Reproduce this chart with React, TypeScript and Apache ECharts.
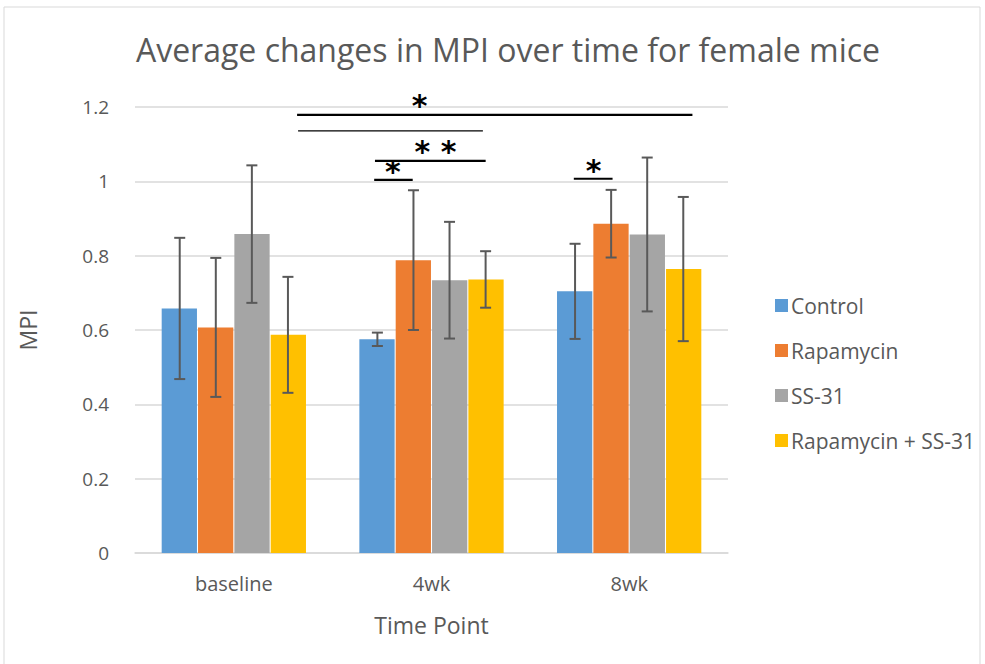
import React, { useEffect, useRef } from "react";
import * as echarts from "echarts";

const categories = ["baseline", "4wk", "8wk"];
const seriesNames = ["Control", "Rapamycin", "SS-31", "Rapamycin + SS-31"];
const colors = ["#5B9BD5", "#ED7D31", "#A5A5A5", "#FFC000"];
const controlVals = [0.658, 0.575, 0.704];
const rapaVals = [0.607, 0.788, 0.886];
const ssVals = [0.858, 0.734, 0.857];
const comboVals = [0.587, 0.736, 0.764];
const controlErr = [0.19, 0.018, 0.128];
const rapaErr = [0.187, 0.188, 0.091];
const ssErr = [0.185, 0.157, 0.207];
const comboErr = [0.156, 0.076, 0.194];

// significance bars: [x start, x end, y, line width] on a 0..3 category-space axis
const sigLines = [
  [0.82, 2.82, 1.179, 2.2],
  [0.825, 1.76, 1.136, 1.2],
  [1.214, 1.774, 1.055, 2.2],
  [1.21, 1.405, 1.004, 2.2],
  [2.22, 2.416, 1.007, 2.2],
];
const starX = [1.44, 1.52, 1.305, 2.32];
const starY = [1.205, 1.081, 1.026, 1.029];
const starText = ["*", "* *", "*", "*"];

const allVals = [controlVals, rapaVals, ssVals, comboVals];
const allErr = [controlErr, rapaErr, ssErr, comboErr];

const GAP = 0.27;
const FONT = "Open Sans";

export default function App() {
  const ref = useRef<HTMLDivElement>(null);
  useEffect(() => {
    if (!ref.current) return;
    const chart = echarts.init(ref.current, undefined, { renderer: "svg" });
    const barSeries = seriesNames.map((name, i) => ({
      name,
      type: "bar",
      data: allVals[i],
      barGap: "3%",
      barCategoryGap: GAP * 100 + "%",
      itemStyle: { color: colors[i] },
      z: 2,
    }));
    const errSeries = seriesNames.map((name, si) => ({
      type: "custom",
      name: name + "-err",
      z: 5,
      data: allVals[si].map((v, k) => [k, v - allErr[si][k], v + allErr[si][k]]),
      renderItem: (params: any, api: any) => {
        const x = api.value(0);
        const lo = api.coord([x, api.value(1)]);
        const hi = api.coord([x, api.value(2)]);
        const catW = api.size([1, 0])[0];
        const groupW = catW * (1 - GAP);
        const bw = groupW / 4;
        const cx = lo[0] - groupW / 2 + (si + 0.5) * bw;
        const cap = 5.5;
        const style = { stroke: "#595959", lineWidth: 2 };
        return {
          type: "group",
          children: [
            { type: "line", shape: { x1: cx, y1: lo[1], x2: cx, y2: hi[1] }, style },
            { type: "line", shape: { x1: cx - cap, y1: lo[1], x2: cx + cap, y2: lo[1] }, style },
            { type: "line", shape: { x1: cx - cap, y1: hi[1], x2: cx + cap, y2: hi[1] }, style },
          ],
        };
      },
    }));
    const option: any = {
      animation: false,
      backgroundColor: "#fff",
      title: {
        text: "Average changes in MPI over time for female mice",
        left: 503,
        textAlign: "center",
        top: 28,
        textStyle: { fontFamily: FONT, fontSize: 32, fontWeight: "normal", color: "#595959" },
      },
      legend: {
        orient: "vertical",
        left: 770,
        top: 290,
        itemWidth: 13,
        itemHeight: 13,
        itemGap: 24,
        icon: "rect",
        data: seriesNames,
        textStyle: { fontFamily: FONT, fontSize: 21, color: "#595959", padding: [0, 0, 0, -2] },
      },
      grid: { left: 135, right: 257, top: 107, bottom: 111 },
      xAxis: [
        {
          type: "category",
          data: categories,
          name: "Time Point",
          nameLocation: "middle",
          nameGap: 60,
          nameTextStyle: { fontFamily: FONT, fontSize: 23, color: "#595959" },
          axisLine: { lineStyle: { color: "#d9d9d9", width: 1.5 } },
          axisTick: { show: false },
          axisLabel: { fontFamily: FONT, fontSize: 20, color: "#595959", margin: 20 },
        },
        { type: "value", min: 0, max: 3, show: false },
      ],
      yAxis: {
        type: "value",
        min: 0,
        max: 1.2,
        interval: 0.2,
        name: "MPI",
        nameLocation: "middle",
        nameGap: 96,
        nameRotate: 90,
        nameTextStyle: { fontFamily: FONT, fontSize: 23, color: "#595959" },
        axisLabel: { fontFamily: FONT, fontSize: 19, color: "#595959", margin: 26 },
        splitLine: { lineStyle: { color: "#d9d9d9", width: 1.5 } },
        axisLine: { show: false },
        axisTick: { show: false },
      },
      graphic: [
        {
          type: "rect",
          shape: { x: 4, y: 7, width: 976, height: 660 },
          style: { fill: "none", stroke: "#d9d9d9", lineWidth: 1 },
          silent: true,
        },
      ],
      series: [
        ...barSeries,
        ...errSeries,
        {
          type: "custom",
          name: "sig-lines",
          xAxisIndex: 1,
          clip: false,
          z: 6,
          data: sigLines,
          renderItem: (params: any, api: any) => {
            const a = api.coord([api.value(0), api.value(2)]);
            const b = api.coord([api.value(1), api.value(2)]);
            return {
              type: "line",
              shape: { x1: a[0], y1: a[1], x2: b[0], y2: b[1] },
              style: { stroke: "#000", lineWidth: api.value(3) },
            };
          },
        },
        {
          type: "custom",
          name: "sig-stars",
          xAxisIndex: 1,
          clip: false,
          z: 6,
          data: starX.map((x, i) => [x, starY[i]]),
          renderItem: (params: any, api: any) => {
            const p = api.coord([api.value(0), api.value(1)]);
            return {
              type: "text",
              x: p[0],
              y: p[1],
              style: {
                text: starText[params.dataIndex],
                fontFamily: "DejaVu Sans",
                fontWeight: "bold",
                fontSize: 30,
                fill: "#000",
                align: "center",
                verticalAlign: "middle",
              },
            };
          },
        },
      ],
    };
    chart.setOption(option);
    return () => chart.dispose();
  }, []);
  return (
    <div
      ref={ref}
      style={{ position: "fixed", left: 0, top: 0, width: 985, height: 664 }}
    />
  );
}
